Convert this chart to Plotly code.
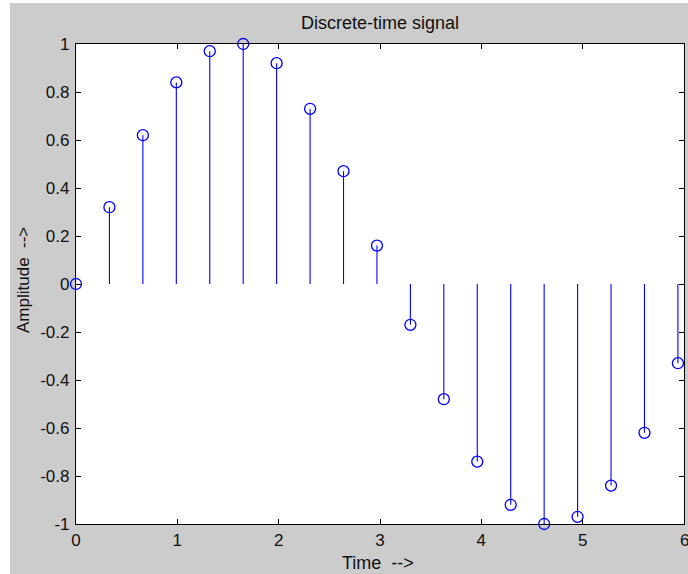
import plotly.graph_objects as go

# Data (stem plot)
time = [0, 0.33, 0.66, 0.99, 1.32, 1.65, 1.98, 2.31, 2.64, 2.97,
        3.30, 3.63, 3.96, 4.29, 4.62, 4.95, 5.28, 5.61, 5.94]
amplitude = [0.0, 0.32, 0.62, 0.84, 0.97, 1.0, 0.92, 0.73, 0.47, 0.16,
             -0.17, -0.48, -0.74, -0.92, -1.0, -0.97, -0.84, -0.62, -0.33]
x_ticks = [0, 1, 2, 3, 4, 5, 6]
x_tick_text = ["0", "1", "2", "3", "4", "5", "6"]
y_ticks = [-1, -0.8, -0.6, -0.4, -0.2, 0, 0.2, 0.4, 0.6, 0.8, 1]
y_tick_text = ["-1", "-0.8", "-0.6", "-0.4", "-0.2", "0", "0.2", "0.4", "0.6", "0.8", "1"]

W, H = 688, 574
L, R, T, B = 76, 4, 44, 50
pw, ph = W - L - R, H - T - B

stem_x, stem_y = [], []
for t, a in zip(time, amplitude):
    stem_x += [t, t, None]
    stem_y += [0, a, None]

blue = "#0000ff"
font = "Liberation Sans, Arial, sans-serif"
txt = "#111111"

fig = go.Figure()
fig.add_trace(go.Scatter(x=stem_x, y=stem_y, mode="lines",
                         line=dict(color=blue, width=1.1),
                         hoverinfo="skip", showlegend=False))
fig.add_trace(go.Scatter(x=time, y=amplitude, mode="markers",
                         marker=dict(symbol="circle-open", size=11,
                                     color=blue, line=dict(width=1.3, color=blue)),
                         cliponaxis=False, showlegend=False))

axis_common = dict(showgrid=False, zeroline=False, showline=True,
                   linecolor="black", linewidth=1.2, mirror="ticks",
                   ticks="inside", ticklen=5, tickwidth=1.2, tickcolor="black",
                   tickfont=dict(family=font, size=17, color=txt))

# the last x label sits on the figure edge, so it is drawn as an annotation below
fig.update_xaxes(range=[0, 6], tickvals=x_ticks,
                 ticktext=x_tick_text[:-1] + [""], **axis_common)
fig.update_yaxes(range=[-1, 1], tickvals=y_ticks, ticktext=y_tick_text,
                 ticklabelstandoff=2, **axis_common)

fig.update_layout(
    width=W, height=H,
    margin=dict(l=L, r=R, t=T, b=B, pad=0),
    paper_bgcolor="#cccccc",
    plot_bgcolor="white",
    showlegend=False,
    shapes=[
        dict(type="rect", xref="paper", yref="paper", layer="below",
             x0=-L / pw - 0.01, x1=-(L - 10) / pw, y0=-B / ph - 0.01, y1=1 + T / ph + 0.01,
             fillcolor="white", line=dict(width=0)),
        dict(type="rect", xref="paper", yref="paper", layer="below",
             x0=-L / pw - 0.01, x1=1 + R / pw + 0.01, y0=1 + (T - 3) / ph, y1=1 + T / ph + 0.01,
             fillcolor="white", line=dict(width=0)),
    ],
    annotations=[
        dict(text=x_tick_text[-1], xref="x", yref="paper",
             x=x_ticks[-1], y=-16 / ph, xanchor="center", yanchor="middle",
             showarrow=False, font=dict(family=font, size=17, color=txt)),
        dict(text="Discrete-time signal", xref="paper", yref="paper",
             x=0.5, y=1 + 21 / ph, xanchor="center", yanchor="middle",
             showarrow=False, font=dict(family=font, size=18, color=txt)),
        dict(text="Time  -->", xref="paper", yref="paper",
             x=(378 - L) / pw, y=-39 / ph, xanchor="center", yanchor="middle",
             showarrow=False, font=dict(family=font, size=18, color=txt)),
        dict(text="Amplitude  -->", xref="paper", yref="paper",
             x=-(L - 23) / pw, y=(524 - 280) / ph, xanchor="center", yanchor="middle",
             textangle=-90,
             showarrow=False, font=dict(family=font, size=17, color=txt)),
    ],
)

fig.write_html("out.html", config={"displayModeBar": False},
               post_script="document.body.style.margin='0';document.body.style.overflow='hidden';")
